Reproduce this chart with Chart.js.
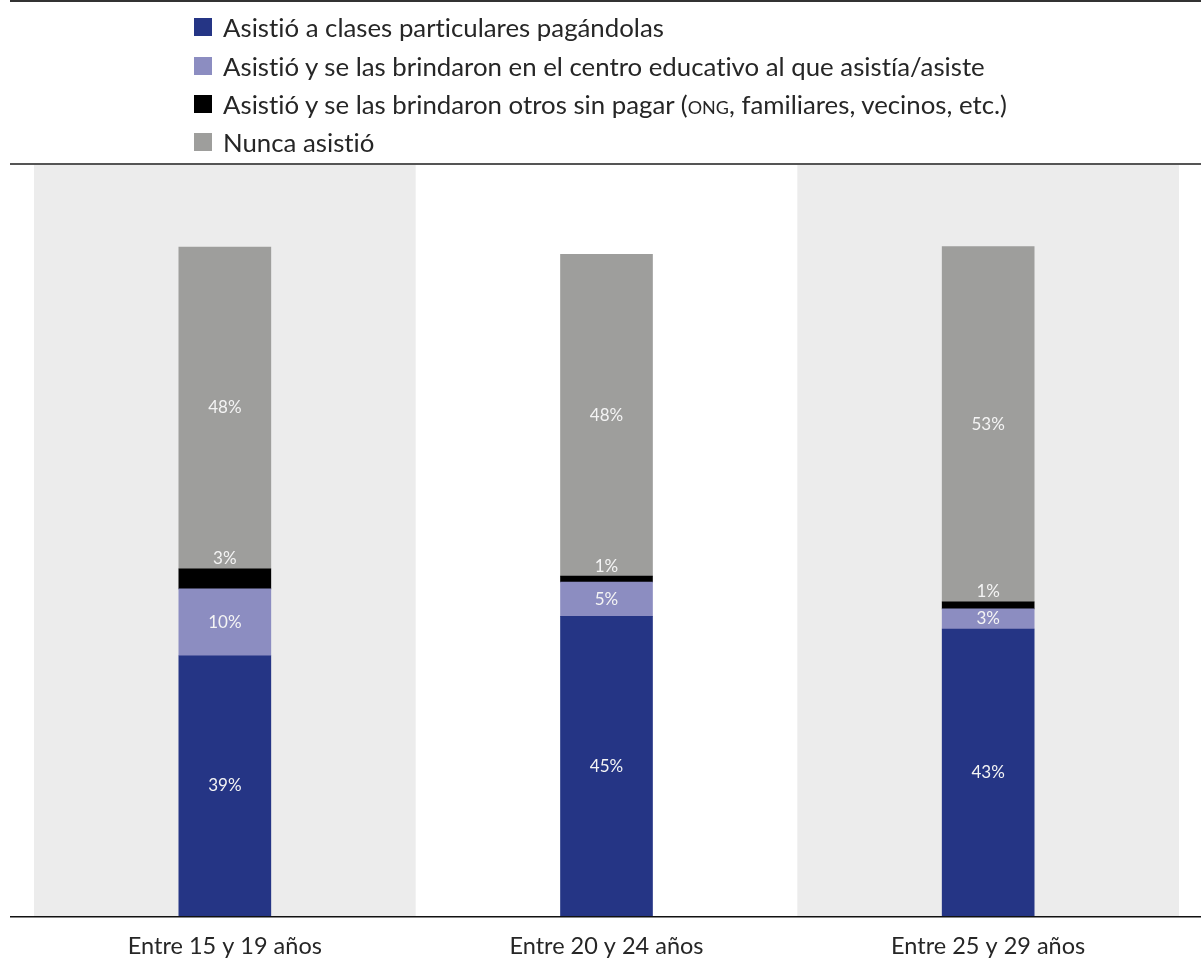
<!DOCTYPE html>
<html><head><meta charset="utf-8">
<script src="https://cdn.jsdelivr.net/npm/chart.js@4"></script>
<style>
html,body{margin:0;padding:0;background:#fff;width:1201px;height:962px;overflow:hidden;}
#wrap{position:relative;width:1201px;height:962px;}
canvas{position:absolute;left:0;top:0;}
#legend{position:absolute;left:194px;top:8px;font-family:Lato,sans-serif;font-size:25.8px;color:#262626;font-variant-ligatures:none;}
.item{display:flex;align-items:center;height:38.4px;white-space:nowrap;}
.sw{width:18px;height:18px;margin-right:11px;flex:none;}
.sc{font-variant:small-caps;}
</style></head>
<body><div id="wrap"><canvas id="c" width="1201" height="962"></canvas><div id="legend"></div></div>
<script>
const categories = ['Entre 15 y 19 años', 'Entre 20 y 24 años', 'Entre 25 y 29 años'];
const seriesNames = [
  'Asistió a clases particulares pagándolas',
  'Asistió y se las brindaron en el centro educativo al que asistía/asiste',
  'Asistió y se las brindaron otros sin pagar (ONG, familiares, vecinos, etc.)',
  'Nunca asistió'
];
const pagandolas = [38.9, 44.8, 42.9];
const centroEducativo = [10.0, 5.1, 3.0];
const otrosSinPagar = [3.0, 0.9, 1.05];
const nuncaAsistio = [48.1, 48.1, 53.1];
const seriesColors = ['#253585', '#8c8dc1', '#000000', '#9e9e9c'];

const FONT = 'Lato, sans-serif';
const seriesData = [pagandolas, centroEducativo, otrosSinPagar, nuncaAsistio];

// HTML legend
const leg = document.getElementById('legend');
seriesNames.forEach((n, i) => {
  const d = document.createElement('div'); d.className = 'item';
  const s = document.createElement('div'); s.className = 'sw'; s.style.background = seriesColors[i];
  const t = document.createElement('span');
  t.innerHTML = n.replace('ONG', '<span class="sc">ong</span>');
  d.appendChild(s); d.appendChild(t); leg.appendChild(d);
});

const bandsPlugin = {
  id: 'bands',
  beforeDatasetsDraw(chart) {
    const { ctx, chartArea, scales: { x } } = chart;
    const w = chartArea.width / categories.length;
    ctx.save();
    ctx.fillStyle = '#ececec';
    categories.forEach((c, i) => {
      if (i % 2 === 0) {
        const cx = x.getPixelForValue(i);
        ctx.fillRect(cx - w / 2, chartArea.top, w, chartArea.bottom - chartArea.top);
      }
    });
    ctx.restore();
  }
};

const labelsPlugin = {
  id: 'vlabels',
  afterDatasetsDraw(chart) {
    const { ctx } = chart;
    ctx.save();
    ctx.fillStyle = '#f4f4f4';
    ctx.font = '17px ' + FONT;
    ctx.textAlign = 'center';
    ctx.textBaseline = 'middle';
    chart.data.datasets.forEach((ds, di) => {
      const meta = chart.getDatasetMeta(di);
      meta.data.forEach((el, i) => {
        const v = ds.data[i];
        const txt = Math.round(v) + '%';
        const y = di === 2 ? el.y - 10 : (el.y + el.base) / 2;
        ctx.fillText(txt, el.x, y);
      });
    });
    ctx.restore();
  }
};

const linesPlugin = {
  id: 'lines',
  afterDraw(chart) {
    const { ctx, chartArea } = chart;
    ctx.save();
    ctx.fillStyle = '#333';
    ctx.fillRect(10, 0, 1191, 2);
    ctx.fillStyle = '#555';
    ctx.fillRect(10, chartArea.top - 2, 1191, 2);
    ctx.fillStyle = '#111';
    ctx.fillRect(10, chartArea.bottom, 1191, 1.5);
    ctx.restore();
  }
};

new Chart(document.getElementById('c'), {
  type: 'bar',
  data: {
    labels: categories,
    datasets: seriesData.map((d, i) => ({
      label: seriesNames[i],
      data: d,
      backgroundColor: seriesColors[i],
      borderWidth: 0,
      barThickness: 92
    }))
  },
  options: {
    responsive: false,
    animation: false,
    devicePixelRatio: 1,
    layout: { padding: { left: 34, right: 22, top: 165, bottom: 0 } },
    plugins: { legend: { display: false }, tooltip: { enabled: false } },
    scales: {
      x: {
        stacked: true,
        grid: { display: false, drawTicks: false },
        border: { display: false },
        ticks: { font: { family: FONT, size: 23.5 }, color: '#262626', padding: 16 },
        afterFit(s) { s.height = 46; }
      },
      y: { stacked: true, display: false, min: 0, max: 112.26 }
    }
  },
  plugins: [bandsPlugin, labelsPlugin, linesPlugin]
});
</script>
</body></html>
